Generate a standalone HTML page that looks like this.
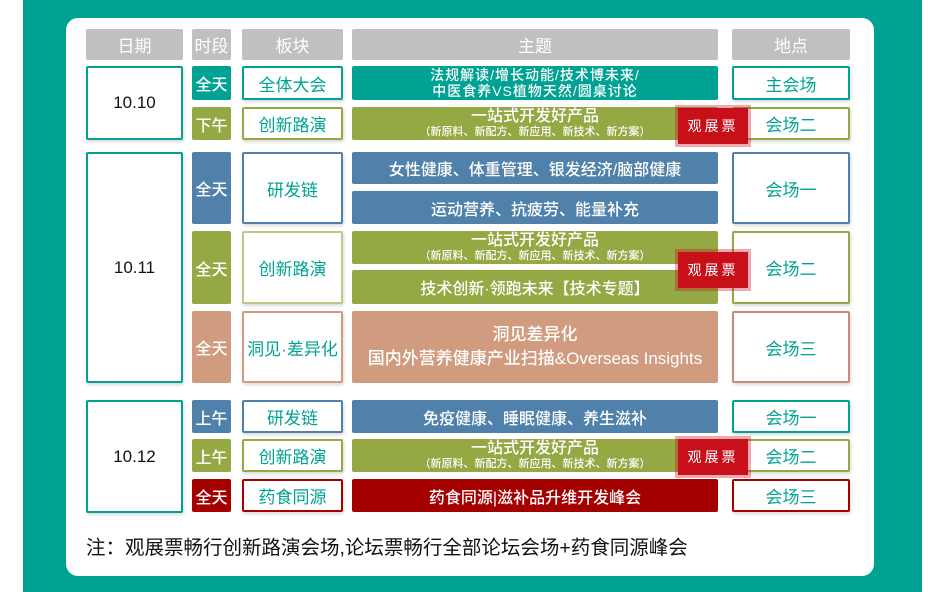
<!DOCTYPE html>
<html><head><meta charset="utf-8"><style>
body{margin:0;width:938px;height:592px;background:#fff;position:relative;overflow:hidden;font-family:"Liberation Sans","Noto Sans CJK SC",sans-serif}
.a{position:absolute;box-sizing:border-box;display:flex;align-items:center;justify-content:center;text-align:center;border-radius:2px}
.h{background:#c0c0c0;color:#fff;font-size:17px}
.o{background:#fff;border:2px solid;font-size:17px;color:#00a393;box-shadow:1px 2px 3px rgba(0,0,0,.15)}
.f{color:#fff;font-size:16px;font-weight:500}
.t{background:#00a393}.g{background:#94a843}.b{background:#4f81aa}.n{background:#d09b7e}.r{background:#a50000}
.st{position:absolute;width:70px;height:36px;background:#c8101a;color:#fff;font-size:14px;letter-spacing:3px;display:flex;align-items:center;justify-content:center;outline:3px solid rgba(200,16,26,.35);box-sizing:border-box}
.sm{font-size:11px;line-height:13px}
</style></head><body>
<div style="position:absolute;left:23px;top:0;width:899px;height:592px;background:#00a393"></div>
<div style="position:absolute;left:66px;top:18px;width:808px;height:558px;background:#fff;border-radius:12px"></div>

<div class="a h" style="left:86px;top:29px;width:97px;height:31px">日期</div>
<div class="a h" style="left:192px;top:29px;width:39px;height:31px">时段</div>
<div class="a h" style="left:242px;top:29px;width:101px;height:31px">板块</div>
<div class="a h" style="left:352px;top:29px;width:366px;height:31px">主题</div>
<div class="a h" style="left:732px;top:29px;width:118px;height:31px">地点</div>

<div class="a o" style="left:86px;top:66px;width:97px;height:74px;border-color:#00a393;color:#111">10.10</div>
<div class="a o" style="left:86px;top:152px;width:97px;height:231px;border-color:#00a393;color:#111">10.11</div>
<div class="a o" style="left:86px;top:400px;width:97px;height:113px;border-color:#00a393;color:#111">10.12</div>

<div class="a f t" style="left:192px;top:66px;width:39px;height:34px">全天</div>
<div class="a f g" style="left:192px;top:107px;width:39px;height:33px">下午</div>
<div class="a f b" style="left:192px;top:152px;width:39px;height:72px">全天</div>
<div class="a f g" style="left:192px;top:231px;width:39px;height:73px">全天</div>
<div class="a f n" style="left:192px;top:311px;width:39px;height:72px">全天</div>
<div class="a f b" style="left:192px;top:400px;width:39px;height:33px">上午</div>
<div class="a f g" style="left:192px;top:439px;width:39px;height:33px">上午</div>
<div class="a f r" style="left:192px;top:479px;width:39px;height:33px">全天</div>

<div class="a o" style="left:242px;top:66px;width:101px;height:34px;border-color:#00a393">全体大会</div>
<div class="a o" style="left:242px;top:107px;width:101px;height:33px;border-color:#94a843">创新路演</div>
<div class="a o" style="left:242px;top:152px;width:101px;height:72px;border-color:#4f81aa">研发链</div>
<div class="a o" style="left:242px;top:231px;width:101px;height:73px;border-color:#b8c98a">创新路演</div>
<div class="a o" style="left:242px;top:311px;width:101px;height:72px;border-color:#d09b7e">洞见·差异化</div>
<div class="a o" style="left:242px;top:400px;width:101px;height:33px;border-color:#4f81aa">研发链</div>
<div class="a o" style="left:242px;top:439px;width:101px;height:33px;border-color:#94a843">创新路演</div>
<div class="a o" style="left:242px;top:479px;width:101px;height:33px;border-color:#a50000">药食同源</div>

<div class="a f t" style="left:352px;top:66px;width:366px;height:34px;font-size:14px;line-height:16px;letter-spacing:1px">法规解读/增长动能/技术博未来/<br>中医食养VS植物天然/圆桌讨论</div>
<div class="a f g" style="left:352px;top:107px;width:366px;height:33px;flex-direction:column"><div style="font-size:16px;line-height:18px">一站式开发好产品</div><div class="sm">（新原料、新配方、新应用、新技术、新方案）</div></div>
<div class="a f b" style="left:352px;top:152px;width:366px;height:32px">女性健康、体重管理、银发经济/脑部健康</div>
<div class="a f b" style="left:352px;top:191px;width:366px;height:33px">运动营养、抗疲劳、能量补充</div>
<div class="a f g" style="left:352px;top:231px;width:366px;height:33px;flex-direction:column"><div style="font-size:16px;line-height:18px">一站式开发好产品</div><div class="sm">（新原料、新配方、新应用、新技术、新方案）</div></div>
<div class="a f g" style="left:352px;top:270px;width:366px;height:34px">技术创新·领跑未来【技术专题】</div>
<div class="a f n" style="left:352px;top:311px;width:366px;height:72px;font-size:17px;line-height:24px">洞见差异化<br>国内外营养健康产业扫描&amp;Overseas Insights</div>
<div class="a f b" style="left:352px;top:400px;width:366px;height:33px">免疫健康、睡眠健康、养生滋补</div>
<div class="a f g" style="left:352px;top:439px;width:366px;height:33px;flex-direction:column"><div style="font-size:16px;line-height:18px">一站式开发好产品</div><div class="sm">（新原料、新配方、新应用、新技术、新方案）</div></div>
<div class="a f r" style="left:352px;top:479px;width:366px;height:33px">药食同源|滋补品升维开发峰会</div>

<div class="a o" style="left:732px;top:66px;width:118px;height:34px;border-color:#00a393">主会场</div>
<div class="a o" style="left:732px;top:107px;width:118px;height:33px;border-color:#94a843">会场二</div>
<div class="a o" style="left:732px;top:152px;width:118px;height:72px;border-color:#4f81aa">会场一</div>
<div class="a o" style="left:732px;top:231px;width:118px;height:73px;border-color:#94a843">会场二</div>
<div class="a o" style="left:732px;top:311px;width:118px;height:72px;border-color:#c98a7a">会场三</div>
<div class="a o" style="left:732px;top:400px;width:118px;height:33px;border-color:#00a393">会场一</div>
<div class="a o" style="left:732px;top:439px;width:118px;height:33px;border-color:#94a843">会场二</div>
<div class="a o" style="left:732px;top:479px;width:118px;height:33px;border-color:#a50000">会场三</div>

<div class="st" style="left:678px;top:108px">观展票</div>
<div class="st" style="left:678px;top:252px">观展票</div>
<div class="st" style="left:678px;top:439px">观展票</div>

<div style="position:absolute;left:86px;top:531px;font-size:19.5px;color:#111;white-space:nowrap">注：观展票畅行创新路演会场,论坛票畅行全部论坛会场+药食同源峰会</div>
</body></html>
